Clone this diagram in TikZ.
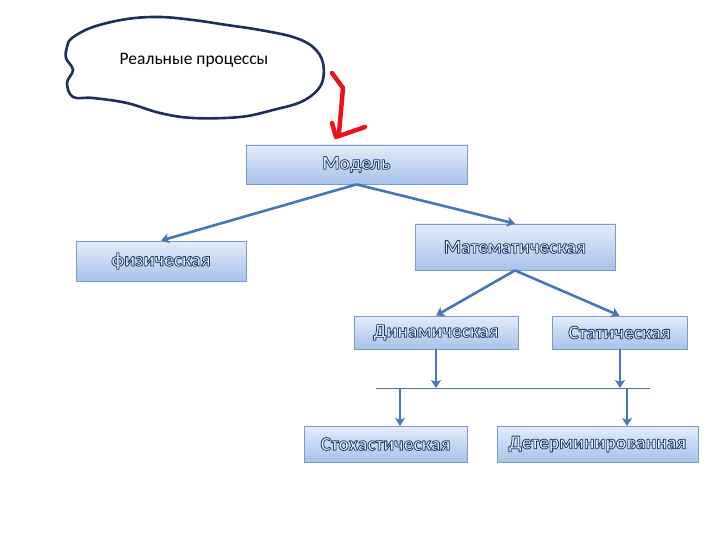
\documentclass[tikz,border=0pt]{standalone}
\usepackage{fontspec}
\setmainfont{Carlito}
\usetikzlibrary{arrows.meta}
\definecolor{navy}{HTML}{1F2D5A}
\definecolor{boxtop}{HTML}{E4ECF9}
\definecolor{boxbot}{HTML}{A7C2EA}
\definecolor{boxline}{HTML}{7E9CCB}
\definecolor{arr}{HTML}{4878B4}
\definecolor{txtin}{HTML}{EEF3FB}
\definecolor{redarr}{HTML}{E8141A}
\newcommand{\otext}[1]{\textcolor{txtin}{\special{pdf:literal 2 Tr 0.8 w 1 j 0.122 0.227 0.416 RG}#1\special{pdf:literal 0 Tr}}}
\tikzset{
  mbox/.style={draw=boxline, line width=0.8pt, top color=boxtop, bottom color=boxbot,
    inner sep=0pt, font=\fontsize{19.5}{23}\selectfont\bfseries},
  conn/.style={draw=arr, line width=2.6pt, -{Stealth[length=8pt,width=10pt,inset=2pt]}},
  thinline/.style={draw=arr, line width=0.8pt}
}
\begin{document}
\begin{tikzpicture}[x=1pt,y=-1pt]
\useasboundingbox (0,0) rectangle (720,540);
% cloud
\draw[navy, line width=2.6pt] plot[smooth cycle, tension=0.6] coordinates {
 (72,38) (93,27) (127,19) (160,17) (193,20) (227,25) (260,30) (293,37) (313,47)
 (323,63) (321,85) (303,101) (273,110) (240,117) (193,118) (160,113) (127,103)
 (93,98) (73,97) (67,83) (73,70) (66,58) (67,47)};
\node (cloud) at (194,60) {\fontsize{17.5}{20}\selectfont Реальные процессы};
% red arrow
\draw[redarr, line width=4.5pt, line cap=round, line join=round] (332,73) -- (343,88) -- (339,133);
\draw[redarr, line width=4.5pt, line cap=round, line join=round] (332,123) -- (336,137) -- (365,127);
% boxes
\node[mbox, minimum width=221pt, minimum height=39pt] (model) at (356.5,164.5) {\otext{Модель}};
\node[mbox, minimum width=170pt, minimum height=40pt] (phys) at (161,261) {\otext{физическая}};
\node[mbox, minimum width=200pt, minimum height=46pt] (math) at (515,247) {\otext{Математическая}};
\node[mbox, minimum width=164pt, minimum height=33pt] (dyn) at (436,332.5) {\otext{Динамическая}};
\node[mbox, minimum width=135pt, minimum height=33pt] (stat) at (619.5,332.5) {\otext{Статическая}};
\node[mbox, minimum width=163pt, minimum height=36pt] (stoch) at (385.5,444) {\otext{Стохастическая}};
\node[mbox, minimum width=201pt, minimum height=36pt] (det) at (597.5,444) {\otext{Детерминированная}};
% connectors
\coordinate (mb) at (model.south);
\draw[conn] (mb) -- (phys.north);
\draw[conn] (mb) -- (math.north);
\draw[conn] (math.south) -- (dyn.north);
\draw[conn] (math.south) -- (stat.north);
\coordinate (hl) at (376,388);
\coordinate (hr) at (650,388);
\draw[thinline] (hl) -- (hr);
\coordinate (d1) at (436,388);
\coordinate (s1) at (620,388);
\draw[conn] (dyn.south) -- (d1);
\draw[conn] ([xshift=0.5pt]stat.south) -- (s1);
\coordinate (a1) at (400,388);
\coordinate (a2) at (627,388);
\coordinate (b1) at (400,426);
\coordinate (b2) at (627,426);
\draw[conn] (a1) -- (b1);
\draw[conn] (a2) -- (b2);
\end{tikzpicture}
\end{document}
